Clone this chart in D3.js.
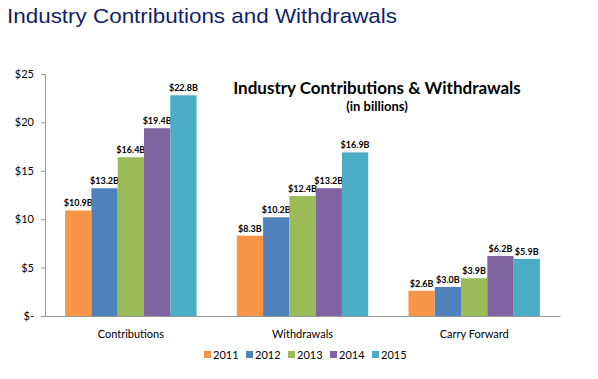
<!DOCTYPE html>
<html><head><meta charset="utf-8">
<script src="https://cdn.jsdelivr.net/npm/d3@7"></script>
<style>body{margin:0;background:#fff}svg{display:block}</style>
</head><body>
<svg id="c" width="598" height="379"></svg>
<script>
const categories = ["Contributions", "Withdrawals", "Carry Forward"];
const years = ["2011", "2012", "2013", "2014", "2015"];
const values2011 = [10.9, 8.3, 2.6];
const values2012 = [13.2, 10.2, 3.0];
const values2013 = [16.4, 12.4, 3.9];
const values2014 = [19.4, 13.2, 6.2];
const values2015 = [22.8, 16.9, 5.9];
const labels2011 = ["$10.9B", "$8.3B", "$2.6B"];
const labels2012 = ["$13.2B", "$10.2B", "$3.0B"];
const labels2013 = ["$16.4B", "$12.4B", "$3.9B"];
const labels2014 = ["$19.4B", "$13.2B", "$6.2B"];
const labels2015 = ["$22.8B", "$16.9B", "$5.9B"];
const yTicks = [0, 5, 10, 15, 20, 25];
const yTickLabels = ["$-", "$5", "$10", "$15", "$20", "$25"];
const colors = ["#F79646", "#4F81BD", "#9BBB59", "#8064A2", "#4BACC6"];

const series = [values2011, values2012, values2013, values2014, values2015];
const seriesLabels = [labels2011, labels2012, labels2013, labels2014, labels2015];

const svg = d3.select("#c");
const font = "Lato, 'Open Sans', sans-serif";

svg.append("text").attr("x", 7).attr("y", 23)
  .attr("font-family", "'Liberation Sans', Arial, sans-serif").attr("font-size", 21)
  .attr("textLength", 390).attr("lengthAdjust", "spacingAndGlyphs")
  .attr("fill", "#0f1f6b").text("Industry Contributions and Withdrawals");

const x0 = d3.scaleBand().domain(categories).range([45, 560]).padding(0);
const x1 = d3.scaleBand().domain(years).range([0, x0.bandwidth()]).paddingInner(0).paddingOuter(0.765);
const y = d3.scaleLinear().domain([0, 25]).range([316, 74]);

// y axis
const yAxis = d3.axisLeft(y).tickValues(yTicks).tickSize(4).tickFormat((d, i) => yTickLabels[i]);
const ga = svg.append("g").attr("transform", "translate(45,0)").call(yAxis);
ga.select(".domain").attr("stroke", "#9a9a9a");
ga.selectAll(".tick line").attr("stroke", "#9a9a9a");
ga.selectAll(".tick text").attr("font-family", font).attr("font-size", 11).attr("fill", "#000").attr("x", -11);

// bars
const groups = svg.append("g").selectAll("g").data(categories).join("g")
  .attr("transform", d => `translate(${x0(d)},0)`);
groups.each(function(cat, ci) {
  const g = d3.select(this);
  years.forEach((yr, si) => {
    const v = series[si][ci];
    g.append("rect").attr("x", x1(yr)).attr("y", y(v))
      .attr("width", x1.bandwidth()).attr("height", y(0) - y(v))
      .attr("fill", colors[si]);
    g.append("text").attr("x", x1(yr) + x1.bandwidth() / 2).attr("y", y(v) - 4)
      .attr("text-anchor", "middle").attr("font-family", font).attr("font-size", 9)
      .attr("font-weight", "bold").attr("fill", "#000").text(seriesLabels[si][ci]);
  });
});

// x axis baseline
const xAxis = d3.axisBottom(x0).tickSize(0).tickPadding(14);
const gx = svg.append("g").attr("transform", "translate(0,316)").call(xAxis);
gx.select(".domain").attr("stroke", "#9a9a9a");
gx.selectAll(".tick text").attr("font-family", font).attr("font-size", 11).attr("fill", "#000");

// chart title
svg.append("text").attr("x", 377).attr("y", 94).attr("text-anchor", "middle")
  .attr("font-family", font).attr("font-size", 17).attr("font-weight", "bold").attr("fill", "#000")
  .text("Industry Contributions & Withdrawals");
svg.append("text").attr("x", 377).attr("y", 111).attr("text-anchor", "middle")
  .attr("font-family", font).attr("font-size", 13).attr("font-weight", "bold").attr("fill", "#000")
  .text("(in billions)");

// legend
const leg = svg.append("g").selectAll("g").data(years).join("g")
  .attr("transform", (d, i) => `translate(${204 + i * 42},351)`);
leg.append("rect").attr("width", 7).attr("height", 7).attr("fill", (d, i) => colors[i]);
leg.append("text").attr("x", 9).attr("y", 7.5).attr("font-family", font).attr("font-size", 11)
  .attr("fill", "#000").text(d => d);
</script>
</body></html>
